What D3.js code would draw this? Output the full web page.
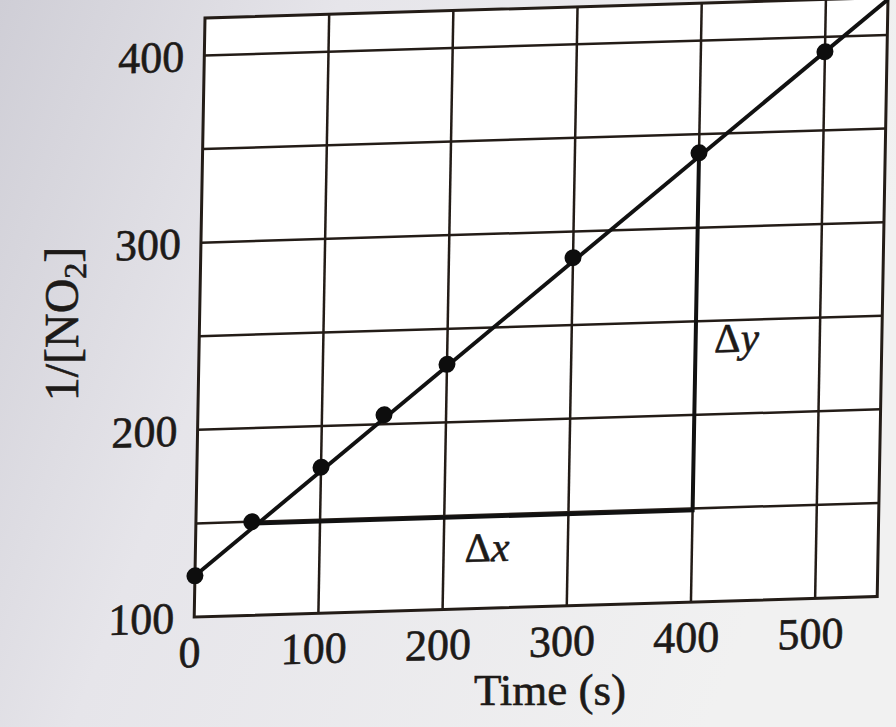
<!DOCTYPE html>
<html>
<head>
<meta charset="utf-8">
<script src="https://cdn.jsdelivr.net/npm/d3@7"></script>
<style>
  body { margin: 0; background: #e4e3e7; }
  svg { display: block; }
  .lbl { font-family: 'Liberation Serif', serif; fill: #1d1a18; stroke: #1d1a18; stroke-width: 0.6px; }
</style>
</head>
<body>
<svg id="chart" width="896" height="727"></svg>
<script>
// values
var times    = [0, 45, 100, 150, 200, 300, 400, 500];
var invConc  = [122, 150, 178, 205, 231, 286, 340, 392];
var xTicks   = [0, 100, 200, 300, 400, 500];
var yTicks   = [100, 200, 300, 400];
var xGrid    = [100, 200, 300, 400, 500];
var yGrid    = [150, 200, 250, 300, 350, 400];
var fitX     = [0, 550];          // best-fit line ends
var fitY     = [122, 419];
var triX     = [45, 400, 400];    // slope triangle: start, corner, top
var triY     = [149, 149, 340];

var width = 683, height = 599;    // local plot size, before the photo skew

var svg = d3.select("#chart");

// paper background, a bit darker to the left like the photo
var grad = svg.append("defs").append("linearGradient")
    .attr("id", "paper")
    .attr("x1", "0").attr("x2", "1").attr("y1", "0").attr("y2", "0.3");
grad.append("stop").attr("offset", "0").attr("stop-color", "#cfced6");
grad.append("stop").attr("offset", "0.35").attr("stop-color", "#e6e5ea");
grad.append("stop").attr("offset", "1").attr("stop-color", "#f1f1f1");
svg.append("rect")
    .attr("width", 896).attr("height", 727)
    .attr("fill", "url(#paper)");

var x = d3.scaleLinear().domain([0, 550]).range([0, width]);
var y = d3.scaleLinear().domain([100, 420]).range([height, 0]);

// the photo is slightly skewed, so the plot group is too
var g = svg.append("g")
    .attr("transform", "matrix(1,-0.03,-0.018,1,205,18)");

g.append("rect")
    .attr("width", width).attr("height", height)
    .attr("fill", "#ffffff");

var ink = "#231c17";

// grid
g.selectAll(".vgrid")
  .data(xGrid)
  .enter().append("line")
    .attr("x1", function(d) { return x(d); })
    .attr("x2", function(d) { return x(d); })
    .attr("y1", 0).attr("y2", height)
    .attr("stroke", ink).attr("stroke-width", 2.5);

g.selectAll(".hgrid")
  .data(yGrid)
  .enter().append("line")
    .attr("y1", function(d) { return y(d); })
    .attr("y2", function(d) { return y(d); })
    .attr("x1", 0).attr("x2", width)
    .attr("stroke", ink).attr("stroke-width", 2.5);

// frame
g.append("rect")
    .attr("width", width).attr("height", height)
    .attr("fill", "none")
    .attr("stroke", ink).attr("stroke-width", 3);

// tick labels
g.selectAll(".xtick")
  .data(xTicks)
  .enter().append("text")
    .attr("class", "lbl")
    .attr("x", function(d) { return x(d) - 4; })
    .attr("y", height + 50)
    .attr("text-anchor", "middle")
    .style("font-size", "44px")
    .text(function(d) { return d; });

g.selectAll(".ytick")
  .data(yTicks)
  .enter().append("text")
    .attr("class", "lbl")
    .attr("x", -20)
    .attr("y", function(d) { return y(d); })
    .attr("dy", "0.35em")
    .attr("text-anchor", "end")
    .style("font-size", "44px")
    .text(function(d) { return d; });

// slope triangle
var tri = d3.line()
    .x(function(d) { return x(d[0]); })
    .y(function(d) { return y(d[1]); });

g.append("path")
    .datum(d3.zip(triX, triY))
    .attr("d", tri)
    .attr("fill", "none")
    .attr("stroke", "#111")
    .attr("stroke-width", 4);

// best-fit line
g.append("path")
    .datum(d3.zip(fitX, fitY))
    .attr("d", tri)
    .attr("fill", "none")
    .attr("stroke", "#111")
    .attr("stroke-width", 4);

// data points
g.selectAll(".pt")
  .data(d3.zip(times, invConc))
  .enter().append("circle")
    .attr("cx", function(d) { return x(d[0]); })
    .attr("cy", function(d) { return y(d[1]); })
    .attr("r", 8.5)
    .attr("fill", "#0d0d0d");

// delta labels
var dx = g.append("text")
    .attr("class", "lbl")
    .attr("x", x(217)).attr("y", y(125))
    .style("font-size", "41px");
dx.append("tspan").text("Δ");
dx.append("tspan").style("font-style", "italic").text("x");

var dy = g.append("text")
    .attr("class", "lbl")
    .attr("x", x(415)).attr("y", y(233))
    .style("font-size", "41px");
dy.append("tspan").text("Δ");
dy.append("tspan").style("font-style", "italic").text("y");

// axis titles
svg.append("text")
    .attr("class", "lbl")
    .attr("x", 550).attr("y", 705)
    .attr("text-anchor", "middle")
    .style("font-size", "45px")
    .text("Time (s)");

var yt = svg.append("text")
    .attr("class", "lbl")
    .attr("transform", "translate(78,324) rotate(-90)")
    .attr("text-anchor", "middle")
    .style("font-size", "48px");
yt.append("tspan").text("1/[NO");
yt.append("tspan").attr("dy", "0.25em").style("font-size", "32px").text("2");
yt.append("tspan").attr("dy", "-0.17em").text("]");
</script>
</body>
</html>
